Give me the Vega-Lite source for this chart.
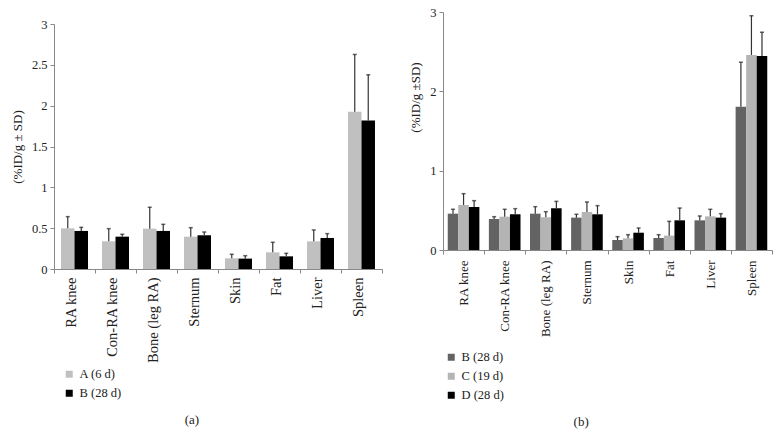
{
  "$schema": "https://vega.github.io/schema/vega-lite/v6.json",
  "background": "white",
  "padding": {"left": 11, "top": 6, "right": 5, "bottom": 5},
  "config": {
    "font": "Liberation Serif",
    "view": {"stroke": null},
    "axis": {"grid": false, "domainColor": "#888888", "tickColor": "#888888", "tickSize": 4, "labelColor": "#222222", "titleColor": "#222222", "labelFontSize": 12.5, "titleFontSize": 13, "titleFontWeight": "normal", "labelFont": "Liberation Serif", "titleFont": "Liberation Serif"},
    "legend": {"labelFontSize": 12.5, "labelColor": "#222222", "symbolType": "square", "symbolSize": 49, "symbolStrokeWidth": 0, "rowPadding": 6, "labelFont": "Liberation Serif"},
    "title": {"fontSize": 13, "fontWeight": "normal", "color": "#222222", "font": "Liberation Serif"}
  },
  "datasets": {
    "left": [
      {"organ": "RA knee", "group": "A (6 d)", "value": 0.498, "err": 0.641},
      {"organ": "RA knee", "group": "B (28 d)", "value": 0.466, "err": 0.51},
      {"organ": "Con-RA knee", "group": "A (6 d)", "value": 0.339, "err": 0.494},
      {"organ": "Con-RA knee", "group": "B (28 d)", "value": 0.396, "err": 0.425},
      {"organ": "Bone (leg RA)", "group": "A (6 d)", "value": 0.494, "err": 0.756},
      {"organ": "Bone (leg RA)", "group": "B (28 d)", "value": 0.466, "err": 0.547},
      {"organ": "Sternum", "group": "A (6 d)", "value": 0.396, "err": 0.506},
      {"organ": "Sternum", "group": "B (28 d)", "value": 0.413, "err": 0.453},
      {"organ": "Skin", "group": "A (6 d)", "value": 0.131, "err": 0.18},
      {"organ": "Skin", "group": "B (28 d)", "value": 0.127, "err": 0.163},
      {"organ": "Fat", "group": "A (6 d)", "value": 0.204, "err": 0.327},
      {"organ": "Fat", "group": "B (28 d)", "value": 0.155, "err": 0.192},
      {"organ": "Liver", "group": "A (6 d)", "value": 0.339, "err": 0.478},
      {"organ": "Liver", "group": "B (28 d)", "value": 0.38, "err": 0.433},
      {"organ": "Spleen", "group": "A (6 d)", "value": 1.924, "err": 2.627},
      {"organ": "Spleen", "group": "B (28 d)", "value": 1.818, "err": 2.378}
    ],
    "right": [
      {"organ": "RA knee", "group": "B (28 d)", "value": 0.458, "err": 0.513},
      {"organ": "RA knee", "group": "C (19 d)", "value": 0.567, "err": 0.71},
      {"organ": "RA knee", "group": "D (28 d)", "value": 0.542, "err": 0.622},
      {"organ": "Con-RA knee", "group": "B (28 d)", "value": 0.391, "err": 0.42},
      {"organ": "Con-RA knee", "group": "C (19 d)", "value": 0.42, "err": 0.513},
      {"organ": "Con-RA knee", "group": "D (28 d)", "value": 0.45, "err": 0.521},
      {"organ": "Bone (leg RA)", "group": "B (28 d)", "value": 0.458, "err": 0.546},
      {"organ": "Bone (leg RA)", "group": "C (19 d)", "value": 0.412, "err": 0.483},
      {"organ": "Bone (leg RA)", "group": "D (28 d)", "value": 0.525, "err": 0.613},
      {"organ": "Sternum", "group": "B (28 d)", "value": 0.408, "err": 0.45},
      {"organ": "Sternum", "group": "C (19 d)", "value": 0.479, "err": 0.605},
      {"organ": "Sternum", "group": "D (28 d)", "value": 0.45, "err": 0.559},
      {"organ": "Skin", "group": "B (28 d)", "value": 0.126, "err": 0.168},
      {"organ": "Skin", "group": "C (19 d)", "value": 0.147, "err": 0.193},
      {"organ": "Skin", "group": "D (28 d)", "value": 0.218, "err": 0.277},
      {"organ": "Fat", "group": "B (28 d)", "value": 0.151, "err": 0.193},
      {"organ": "Fat", "group": "C (19 d)", "value": 0.181, "err": 0.361},
      {"organ": "Fat", "group": "D (28 d)", "value": 0.374, "err": 0.529},
      {"organ": "Liver", "group": "B (28 d)", "value": 0.374, "err": 0.429},
      {"organ": "Liver", "group": "C (19 d)", "value": 0.424, "err": 0.513},
      {"organ": "Liver", "group": "D (28 d)", "value": 0.408, "err": 0.458},
      {"organ": "Spleen", "group": "B (28 d)", "value": 1.807, "err": 2.367},
      {"organ": "Spleen", "group": "C (19 d)", "value": 2.459, "err": 2.953},
      {"organ": "Spleen", "group": "D (28 d)", "value": 2.446, "err": 2.745}
    ],
    "spacer": [{"s": 1}]
  },
  "spacing": 26,
  "resolve": {"scale": {"color": "independent", "x": "independent", "y": "independent", "xOffset": "independent"}, "legend": {"color": "independent"}},
  "hconcat": [
    {
      "spacing": 0,
      "resolve": {"scale": {"color": "independent", "x": "independent", "y": "independent", "xOffset": "independent"}, "legend": {"color": "independent"}},
      "vconcat": [
        {
          "width": 10, "height": 1,
          "data": {"name": "spacer"},
          "mark": {"type": "text", "text": "", "opacity": 0},
          "encoding": {}
        },
        {
          "width": 328, "height": 245,
          "data": {"name": "left"},
          "title": {"text": "(a)", "orient": "bottom", "frame": "bounds", "anchor": "middle", "offset": 14, "dx": -5},
          "encoding": {
            "x": {"field": "organ", "type": "nominal", "sort": ["RA knee", "Con-RA knee", "Bone (leg RA)", "Sternum", "Skin", "Fat", "Liver", "Spleen"], "scale": {"paddingInner": 0, "paddingOuter": 0},
              "axis": {"title": null, "labelAngle": 270, "labelAlign": "right", "labelBaseline": "middle", "labelFontSize": 14.5, "labelPadding": 4, "tickBand": "extent", "labelOffset": -3.5}},
            "xOffset": {"field": "group", "type": "nominal", "sort": ["A (6 d)", "B (28 d)"], "scale": {"paddingInner": 0, "paddingOuter": 0.52}}
          },
          "layer": [
            {
              "mark": {"type": "bar"},
              "encoding": {
                "y": {"field": "value", "type": "quantitative", "scale": {"domain": [0, 3]}, "title": "(%ID/g ± SD)",
                  "axis": {"values": [0, 0.5, 1, 1.5, 2, 2.5, 3], "format": "~g", "labelPadding": 3, "titlePadding": 7}},
                "color": {"field": "group", "type": "nominal", "sort": ["A (6 d)", "B (28 d)"], "scale": {"domain": ["A (6 d)", "B (28 d)"], "range": ["#c0c0c0", "#000000"]},
                  "legend": {"title": null, "orient": "none", "legendX": 9, "legendY": 344, "direction": "vertical"}}
              }
            },
            {
              "mark": {"type": "rule", "color": "#333333", "strokeWidth": 1.2},
              "encoding": {
                "y": {"field": "value", "type": "quantitative", "title": "(%ID/g ± SD)"},
                "y2": {"field": "err"}
              }
            },
            {
              "mark": {"type": "tick", "orient": "horizontal", "size": 4, "thickness": 1.5, "color": "#222222"},
              "encoding": {
                "y": {"field": "err", "type": "quantitative", "title": "(%ID/g ± SD)"}
              }
            }
          ]
        }
      ]
    },
    {
      "width": 329, "height": 238,
      "data": {"name": "right"},
      "title": {"text": "(b)", "orient": "bottom", "frame": "bounds", "anchor": "middle", "offset": 14, "dx": -10},
      "encoding": {
        "x": {"field": "organ", "type": "nominal", "sort": ["RA knee", "Con-RA knee", "Bone (leg RA)", "Sternum", "Skin", "Fat", "Liver", "Spleen"], "scale": {"paddingInner": 0, "paddingOuter": 0},
          "axis": {"title": null, "labelAngle": 270, "labelAlign": "right", "labelBaseline": "middle", "labelFontSize": 13, "labelPadding": 6, "tickBand": "extent"}},
        "xOffset": {"field": "group", "type": "nominal", "sort": ["B (28 d)", "C (19 d)", "D (28 d)"], "scale": {"paddingInner": 0, "paddingOuter": 0.45}}
      },
      "layer": [
        {
          "mark": {"type": "bar"},
          "encoding": {
            "y": {"field": "value", "type": "quantitative", "scale": {"domain": [0, 3]}, "title": "(%ID/g ±SD)",
              "axis": {"values": [0, 0.5, 1, 1.5, 2, 2.5, 3], "format": "~g", "labelPadding": 3, "titlePadding": 7, "titleY": 85}},
            "color": {"field": "group", "type": "nominal", "sort": ["B (28 d)", "C (19 d)", "D (28 d)"], "scale": {"domain": ["B (28 d)", "C (19 d)", "D (28 d)"], "range": ["#636363", "#b4b4b4", "#000000"]},
              "legend": {"title": null, "orient": "none", "legendX": 2, "legendY": 339, "direction": "vertical"}}
          }
        },
        {
          "mark": {"type": "rule", "color": "#333333", "strokeWidth": 1.2},
          "encoding": {
            "y": {"field": "value", "type": "quantitative", "title": "(%ID/g ±SD)"},
            "y2": {"field": "err"}
          }
        },
        {
          "mark": {"type": "tick", "orient": "horizontal", "size": 4, "thickness": 1.5, "color": "#222222"},
          "encoding": {
            "y": {"field": "err", "type": "quantitative", "title": "(%ID/g ±SD)"}
          }
        }
      ]
    }
  ]
}
